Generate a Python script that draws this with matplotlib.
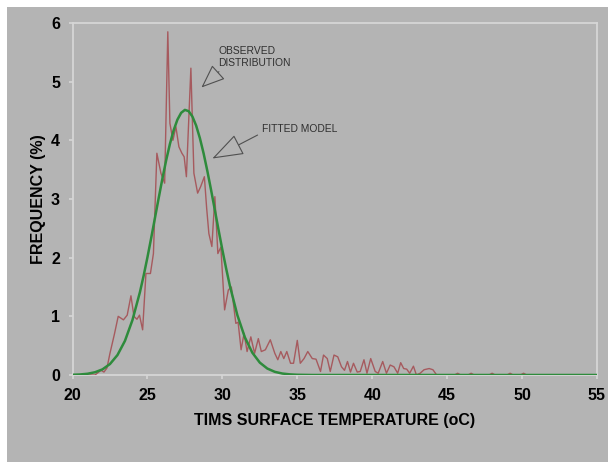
import matplotlib
matplotlib.use("Agg")
import matplotlib.pyplot as plt
from matplotlib.patches import Rectangle

# Observed distribution (temperature, frequency %)
obs_x = [20.0, 21.5, 21.9, 22.1, 22.3, 22.5, 22.8, 23.05, 23.4, 23.65, 23.9, 24.1, 24.3, 24.47, 24.68,
         24.9, 25.2, 25.4, 25.63, 25.9, 26.15, 26.36, 26.5, 26.7, 26.9, 27.1, 27.3, 27.45, 27.6, 27.9,
         28.1, 28.35, 28.55, 28.8, 28.95, 29.1, 29.3, 29.5, 29.7, 29.9, 30.15, 30.4, 30.6, 30.9, 31.05,
         31.25, 31.45, 31.65, 31.9, 32.15, 32.4, 32.6, 32.87, 33.2, 33.5, 33.7, 33.9, 34.1, 34.3, 34.55,
         34.75, 35.0, 35.2, 35.45, 35.7, 36.0, 36.25, 36.55, 36.75, 37.0, 37.2, 37.45, 37.7, 37.95, 38.15,
         38.35, 38.55, 38.75, 39.0, 39.2, 39.45, 39.65, 39.9, 40.2, 40.4, 40.7, 40.95, 41.2, 41.45, 41.7,
         41.9, 42.1, 42.3, 42.5, 42.75, 42.95, 43.2, 43.46, 43.8, 44.05, 44.3, 45.5, 45.7, 45.9, 46.4,
         46.6, 46.8, 47.8, 48.0, 48.2, 49.0, 49.2, 49.4, 49.9, 50.1, 50.3, 55.0]
obs_y = [0.0, 0.0, 0.08, 0.05, 0.12, 0.37, 0.7, 1.0, 0.94, 1.02, 1.35, 1.0, 0.95, 1.02, 0.77,
         1.73, 1.73, 2.07, 3.78, 3.44, 3.27, 5.85, 4.29, 4.0, 4.23, 3.89, 3.78, 3.72, 3.38, 5.23,
         3.44, 3.1, 3.21, 3.38, 2.85, 2.41, 2.19, 3.04, 2.07, 2.18, 1.11, 1.45, 1.5, 0.88, 0.9,
         0.43, 0.71, 0.4, 0.65, 0.37, 0.62, 0.4, 0.43, 0.6, 0.37, 0.26, 0.4, 0.28, 0.4, 0.2,
         0.2, 0.59, 0.2, 0.28, 0.4, 0.28, 0.27, 0.06, 0.34, 0.28, 0.06, 0.34, 0.31, 0.14, 0.08,
         0.23, 0.05, 0.2, 0.05, 0.06, 0.26, 0.03, 0.28, 0.06, 0.03, 0.23, 0.03, 0.17, 0.14, 0.03,
         0.21, 0.11, 0.1, 0.03, 0.15, 0.0, 0.03, 0.09, 0.11, 0.09, 0.0, 0.0, 0.03, 0.0, 0.0,
         0.03, 0.0, 0.0, 0.03, 0.0, 0.0, 0.03, 0.0, 0.0, 0.03, 0.0, 0.0]

# Fitted model
fit_x = [20.0, 20.5, 21.0, 21.5, 22.0, 22.5, 23.0, 23.5, 24.0, 24.5, 24.75, 25.0, 25.25, 25.5, 25.75,
         26.0, 26.25, 26.5, 26.75, 27.0, 27.25, 27.5, 27.75, 28.0, 28.25, 28.5, 28.75, 29.0, 29.25,
         29.5, 29.75, 30.0, 30.25, 30.5, 31.0, 31.5, 32.0, 32.5, 33.0, 33.5, 34.0, 34.5,
         35.0, 36.0, 55.0]
fit_y = [0.004, 0.009, 0.021, 0.047, 0.096, 0.187, 0.34, 0.582, 0.936, 1.413, 1.696, 2.005, 2.334, 2.674, 3.015,
         3.349, 3.66, 3.938, 4.172, 4.352, 4.469, 4.519, 4.497, 4.407, 4.252, 4.038, 3.776, 3.475, 3.15,
         2.81, 2.468, 2.134, 1.818, 1.523, 1.021, 0.643, 0.38, 0.211, 0.11, 0.054, 0.025, 0.011,
         0.004, 0.0, 0.0]

x_ticks = [20, 25, 30, 35, 40, 45, 50, 55]
y_ticks = [0, 1, 2, 3, 4, 5, 6]

BG = "#b4b4b4"
SPINE = "#d6d6d6"
plt.rcParams["font.family"] = ["Liberation Sans", "DejaVu Sans"]

fig = plt.figure(figsize=(6.08, 4.62), dpi=100)
fig.patch.set_facecolor("white")
bg_rect = Rectangle((7 / 608, 0), 1 - 7 / 608, (462 - 7) / 462,
                    transform=fig.transFigure, facecolor=BG, edgecolor="none", zorder=-10)
fig.add_artist(bg_rect)

ax = fig.add_axes([72.5 / 608, (462 - 375) / 462, (597 - 72.5) / 608, (375 - 23) / 462])
ax.set_zorder(1)
ax.set_facecolor(BG)

ax.plot(obs_x, obs_y, color="#a65a5e", lw=1.0, zorder=3)
ax.plot(fit_x, fit_y, color="#2e8b3c", lw=1.8, zorder=4)

ax.set_xlim(20, 55)
ax.set_ylim(0, 6)
ax.set_xticks(x_ticks)
ax.set_yticks(y_ticks)
ax.set_xticklabels([str(v) for v in x_ticks], fontsize=11.5, fontweight="bold")
ax.set_yticklabels([str(v) for v in y_ticks], fontsize=11.5, fontweight="bold")
ax.tick_params(axis="both", direction="out", length=3, color=SPINE, width=1.2)
ax.tick_params(axis="x", pad=6)
ax.tick_params(axis="y", pad=6)
for s in ax.spines.values():
    s.set_color(SPINE)
    s.set_linewidth(1.3)

ax.set_xlabel("TIMS SURFACE TEMPERATURE (oC)", fontsize=11.5, fontweight="bold", va="center")
ax.xaxis.set_label_coords(0.5, (375 - 420) / 352)
ax.set_ylabel("FREQUENCY (%)", fontsize=11.5, fontweight="bold", va="center")
ax.yaxis.set_label_coords((39 - 72.5) / 524.5, 0.5)

ax.text(29.73, 5.60, "OBSERVED\nDISTRIBUTION", fontsize=7.4, color="#303030",
        ha="left", va="top", linespacing=1.25)
ax.text(32.63, 4.2, "FITTED MODEL", fontsize=7.4, color="#303030", ha="left", va="center")

ax.annotate("", xy=(28.6, 4.90), xytext=(29.77, 5.17),
            arrowprops=dict(arrowstyle="-|>,head_length=1.5,head_width=0.6", mutation_scale=10,
                            fc=BG, ec="#505050", lw=0.8, shrinkA=0, shrinkB=0))
ax.annotate("", xy=(29.33, 3.69), xytext=(32.35, 4.09),
            arrowprops=dict(arrowstyle="-|>,head_length=2.0,head_width=0.7", mutation_scale=10,
                            fc=BG, ec="#505050", lw=0.8, shrinkA=0, shrinkB=0))

fig.savefig("out.png", dpi=100)
